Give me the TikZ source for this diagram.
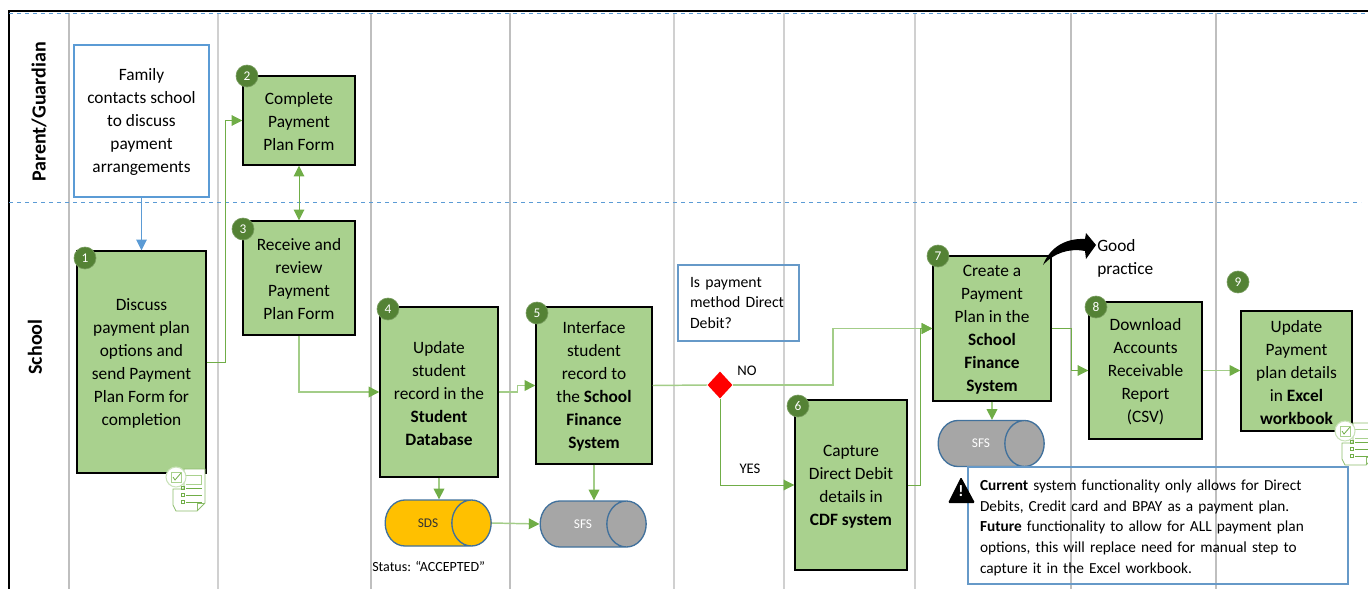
\documentclass[tikz,border=0pt]{standalone}
\usepackage{fontspec}
\setmainfont{Carlito}
\usetikzlibrary{arrows.meta,shapes.geometric}

\definecolor{stepgreen}{HTML}{A9D18E}
\definecolor{badgegreen}{HTML}{548235}
\definecolor{flowgreen}{HTML}{70AD47}
\definecolor{palegreen}{HTML}{A3CD88}
\definecolor{noteblue}{HTML}{6699C8}
\definecolor{arrowblue}{HTML}{5B9BD5}
\definecolor{drumedge}{HTML}{41719C}
\definecolor{drumgold}{HTML}{FFC000}
\definecolor{drumgrey}{HTML}{A6A6A6}
\definecolor{lanegrey}{HTML}{BFBFBF}
\definecolor{lanepale}{HTML}{D0D0D0}

\tikzset{
  boxsize/.style 2 args={minimum width=#1*0.75pt,minimum height=#2*0.75pt},
  stepsize/.style 2 args={boxsize={#1}{#2},text width=#1*0.75pt},
  stepbox/.style={draw=black,line width=1.1pt,fill=stepgreen,align=flush center,inner sep=0pt,
    font=\fontsize{13}{17.25}\selectfont,execute at begin node={\rule{0pt}{11pt}}},
  badge/.style={circle,fill=badgegreen,draw=badgegreen!80!white,line width=0.5pt,text=white,
    minimum size=16.5pt,inner sep=0pt,font=\fontsize{10}{12}\selectfont},
  notebox/.style={draw=noteblue,line width=1.1pt,align=left,inner sep=0pt},
  drum/.style={cylinder,shape aspect=4.5,draw=drumedge,line width=1pt,minimum width=34.5pt,
    minimum height=79.5pt,inner sep=0pt,font=\fontsize{10}{12}\selectfont},
  tip/.style={-{Triangle[length=8pt,width=8pt,color=flowgreen]}},
  flow/.style={draw=flowgreen,line width=0.75pt,tip},
  paleflow/.style={draw=palegreen,line width=1.1pt,tip},
  plainlabel/.style={inner sep=0pt,font=\fontsize{11}{14}\selectfont},
  pics/formicon/.style={code={
    % paper with the list rows
    \draw[flowgreen!80!white,line width=0.6pt,fill=white]
      (-3,12) -- (-3,28) -- (0,34) -- (21,34) -- (29,26) -- (29,-8) -- (8,-8) -- (8,12) -- cycle;
    \draw[flowgreen!80!white,line width=0.5pt] (21,34) -- (21,26) -- (29,26);
    \draw[stepgreen,line width=0.5pt] (10,-2) -- (25,-2) -- (25,7) -- (10,7);
    \foreach \yrow in {11,18,25} {
      \draw[flowgreen,line width=0.5pt] (5,\yrow-1.5) rectangle (8,\yrow+1.5);
      \draw[flowgreen,line width=0.6pt] (10,\yrow) -- (26,\yrow);
    }
    % round tick badge
    \draw[stepgreen!60!white,line width=0.8pt,fill=white] (0,0) circle (10);
    \draw[stepgreen,line width=0.6pt] (-5,-5) rectangle (5,5);
    \draw[flowgreen,line width=0.6pt] (-3,0) -- (-1,3) -- (5,-4);
  }}
}

\begin{document}
\begin{tikzpicture}[x=0.75pt,y=-0.75pt]
  \clip (0,0) rectangle (1368,589);

  % Lane dividers
  \foreach \xlane/\wlane/\clane in {69/1.5pt/lanegrey,218/2.2pt/lanepale,371/1.3pt/lanegrey,510/1.6pt/lanegrey,674/1.6pt/lanepale,784/1.6pt/lanepale,915/2.2pt/lanepale,1071/1.6pt/lanegrey,1216/1.6pt/lanegrey}
    \draw[\clane,line width=\wlane] (\xlane,13) -- (\xlane,589);

  % Outer frame and the dashed lane separators
  \draw[black,line width=1.5pt] (9,589) -- (9,11) -- (1368,11);
  \draw[arrowblue,dashed,line width=0.6pt] (9,13) -- (1368,13);
  \draw[arrowblue,dashed,line width=0.6pt] (9,202) -- (1361,202);

  % Lane titles
  \node[rotate=90,inner sep=0pt,font=\fontsize{15}{16}\selectfont\bfseries] (laneparent) at (39,112) {Parent/Guardian};
  \node[rotate=90,inner sep=0pt,font=\fontsize{15}{16}\selectfont\bfseries] (laneschool) at (35,347) {School};

  % Process boxes
  \node[stepbox,draw=arrowblue,fill=white,line width=2.2pt,stepsize={135}{152}] (family) at (141.5,121)
    {Family\\contacts school\\to discuss\\payment\\arrangements};
  \node[stepbox,stepsize={129}{222}] (box1) at (141.5,362)
    {Discuss\\payment plan\\options and\\send Payment\\Plan Form for\\completion};
  \node[stepbox,stepsize={112}{89}] (box2) at (299,120.5) {Complete\\Payment\\Plan Form};
  \node[stepbox,stepsize={112}{114}] (box3) at (299,278) {Receive and\\review\\Payment\\Plan Form};
  \node[stepbox,stepsize={118}{170}] (box4) at (439,392)
    {Update\\student\\record in the\\\textbf{Student}\\\textbf{Database}};
  \node[stepbox,stepsize={116}{157}] (box5) at (594,385.5)
    {Interface\\student\\record to\\the \textbf{School}\\\textbf{Finance}\\\textbf{System}};
  \node[stepbox,stepsize={112}{170}] (box6) at (851,485)
    {Capture\\Direct Debit\\details in\\\textbf{CDF system}};
  \node[stepbox,stepsize={118}{145}] (box7) at (992,328.5)
    {Create a\\Payment\\Plan in the\\\textbf{School}\\\textbf{Finance}\\\textbf{System}};
  \node[stepbox,stepsize={113}{137}] (box8) at (1145.5,370.5)
    {Download\\Accounts\\Receivable\\Report\\(CSV)};
  \node[stepbox,stepsize={111}{120}] (box9) at (1296.5,371)
    {Update\\Payment\\plan details\\in \textbf{Excel}\\\textbf{workbook}};

  % Forms icons
  \pic at (176,477) {formicon};
  \pic at (1345,431) {formicon};

  % Step numbers
  \node[badge] (badge1) at (85,258) {1};
  \node[badge] (badge2) at (247,76) {2};
  \node[badge] (badge3) at (243,229) {3};
  \node[badge] (badge4) at (388,309) {4};
  \node[badge] (badge5) at (537,313) {5};
  \node[badge] (badge6) at (798,406) {6};
  \node[badge] (badge7) at (938,256) {7};
  \node[badge] (badge8) at (1096,307) {8};
  \node[badge] (badge9) at (1238,282) {9};

  % Data stores
  \node[drum,fill=drumgold,text=black!80] (sds) at (428,523) {SDS};
  \node[drum,fill=drumgrey,text=white] (sfsa) at (583,524) {SFS};
  \node[drum,fill=drumgrey,text=white] (sfsb) at (981,443.5) {SFS};

  % Decision
  \node[diamond,fill=red,inner sep=0pt,boxsize={25}{27}] (decision) at (720,385) {};
  \node[notebox,boxsize={121}{76},text width=97*0.75pt,inner xsep=9pt,font=\fontsize{11.8}{15.5}\selectfont] (question) at (738.5,303)
    {Is payment\\method Direct\\Debit?};
  \node[plainlabel] (labelno) at (747,371) {NO};
  \node[plainlabel] (labelyes) at (750,469) {YES};

  % Connectors
  \draw[arrowblue,line width=0.7pt,-{Triangle[length=8pt,width=8pt]}] (family.south) -- (box1.north);
  \draw[flow] (box1.east) -- ++(19,0) |- (box2.west);
  \draw[flow,{Triangle[length=8pt,width=8pt]}-{Triangle[length=8pt,width=8pt]}] (box2.south) -- (box3.north);
  \draw[paleflow] (box3.south) |- (box4.west);
  \draw[paleflow] (box4.east) -- ++(19,0) |- (box5.west);
  \draw[paleflow,-] (box5.east) -- (decision.west);
  \draw[paleflow] (decision.east) -- ++(100,0) |- (box7.west);
  \draw[flow] (decision.south) |- (box6.west);
  \draw[flow] (box6.east) -- ++(13,0) |- (box7.west);
  \draw[flow] (box7.east) -- ++(20,0) |- (box8.west);
  \draw[paleflow] (box8.east) -- (box8.east -| box9.west);
  \draw[paleflow] (box4.south) -- (box4.south |- sds.north);
  \draw[paleflow] (box5.south) -- (box5.south |- sfsa.north);
  \draw[paleflow] (box7.south) -- (box7.south |- sfsb.north);
  \draw[paleflow] (sds.east) -- (sfsa.west);

  % Good practice marker
  \fill[black] (1043,265) .. controls (1050,247) and (1066,238) .. (1085,239)
    -- (1086,233) -- (1096,245) -- (1086,259) -- (1085,251)
    .. controls (1069,248) and (1054,253) .. (1043,265) -- cycle;
  \node[anchor=west,align=left,inner sep=0pt,font=\fontsize{13}{17.25}\selectfont] (goodpractice) at (1097,258) {Good\\practice};

  \node[plainlabel,anchor=west,font=\fontsize{10.5}{12}\selectfont] (status) at (372,567) {Status: “ACCEPTED”};

  % Warning note
  \node[notebox,boxsize={380}{117},text width=356*0.75pt,inner xsep=9pt,font=\fontsize{11.5}{15.6}\selectfont,
    execute at begin node={\rule{0pt}{11.5pt}}] (warning) at (1158,525.5)
    {\textbf{Current} system functionality only allows for Direct\\
     Debits, Credit card and BPAY as a payment plan.\\
     \textbf{Future} functionality to allow for ALL payment plan\\
     options, this will replace need for manual step to\\
     capture it in the Excel workbook.};
  \fill[black,rounded corners=1pt] (961,477) -- (975,503) -- (948,503) -- cycle;
  \node[text=white,inner sep=0pt,font=\fontsize{12}{14}\selectfont\bfseries] (warnmark) at (961,491) {!};
\end{tikzpicture}
\end{document}
